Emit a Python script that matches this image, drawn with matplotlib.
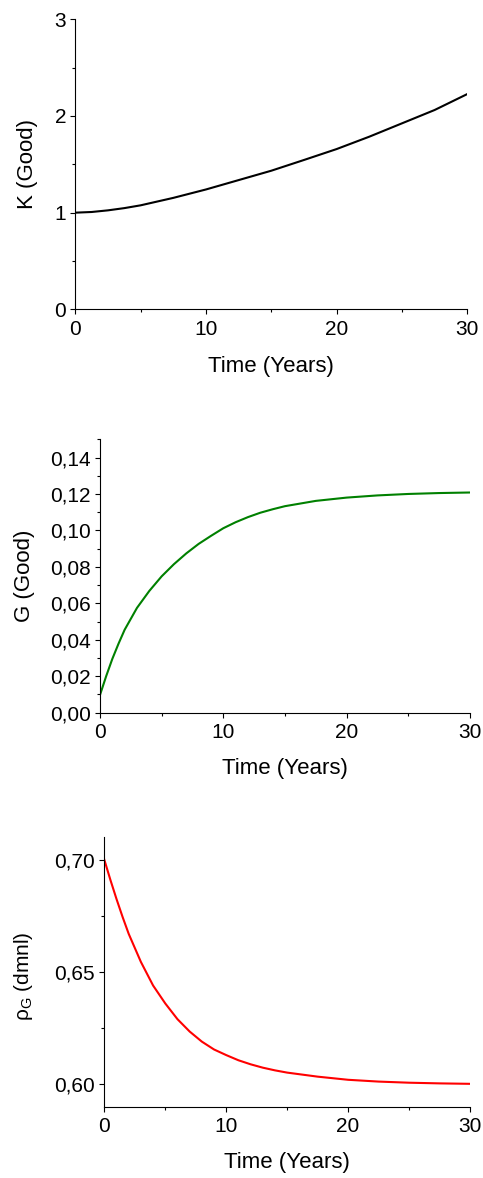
import matplotlib
matplotlib.use('Agg')
from matplotlib import pyplot as plt
from matplotlib.ticker import FixedLocator

plt.rcParams['font.family'] = ['Liberation Sans', 'DejaVu Sans']
plt.rcParams['mathtext.fontset'] = 'custom'
plt.rcParams['mathtext.rm'] = 'Liberation Sans'
plt.rcParams['mathtext.it'] = 'Liberation Sans'
plt.rcParams['mathtext.default'] = 'regular'

# K (Good)
t_k = [0, 1.25, 2.5, 3.75, 5, 7.5, 10, 12.5, 15, 17.5, 20, 22.5, 25, 27.5, 30]
k_vals = [1.0, 1.007, 1.024, 1.047, 1.076, 1.153, 1.240, 1.337, 1.434, 1.545, 1.658, 1.786, 1.924, 2.062, 2.227]

# G (Good)
t_g = [0, 0.5, 1, 1.5, 2, 3, 4, 5, 6, 7, 8, 9, 10, 11, 12, 13, 14, 15, 17.5, 20, 22.5, 25, 27.5, 30]
g_vals = [0.0097, 0.0200, 0.0295, 0.0378, 0.0455, 0.0575, 0.0668, 0.0748, 0.0815, 0.0874, 0.0926, 0.0970,
          0.1012, 0.1045, 0.1073, 0.1097, 0.1116, 0.1133, 0.1162, 0.1180, 0.1192, 0.1200, 0.1205, 0.1208]

# rho_G (dmnl)
t_r = [0, 0.5, 1, 1.5, 2, 3, 4, 5, 6, 7, 8, 9, 10, 11, 12, 13, 14, 15, 17.5, 20, 22.5, 25, 27.5, 30]
rho_vals = [0.700, 0.6910, 0.6825, 0.6745, 0.6670, 0.6545, 0.6440, 0.6360, 0.6290, 0.6235, 0.6190,
            0.6155, 0.6130, 0.6107, 0.6089, 0.6074, 0.6062, 0.6052, 0.6034, 0.6020, 0.6012, 0.6007,
            0.6004, 0.6002]

x_ticks = [0, 10, 20, 30]
x_minor = [5, 15, 25]

k_ticks = [0, 1, 2, 3]
k_minor = [0.5, 1.5, 2.5]
k_labels = ['0', '1', '2', '3']

g_ticks = [0.00, 0.02, 0.04, 0.06, 0.08, 0.10, 0.12, 0.14]
g_minor = [0.01, 0.03, 0.05, 0.07, 0.09, 0.11, 0.13, 0.15]
g_labels = ['0,00', '0,02', '0,04', '0,06', '0,08', '0,10', '0,12', '0,14']

r_ticks = [0.60, 0.65, 0.70]
r_minor = [0.625, 0.675]
r_labels = ['0,60', '0,65', '0,70']


def style_axis(ax, yticks, yminor, ylabels):
    ax.spines['top'].set_visible(False)
    ax.spines['right'].set_visible(False)
    for s in ['left', 'bottom']:
        ax.spines[s].set_linewidth(0.8)
    ax.set_xlim(0, 30)
    ax.xaxis.set_major_locator(FixedLocator(x_ticks))
    ax.xaxis.set_minor_locator(FixedLocator(x_minor))
    ax.set_xticklabels([str(v) for v in x_ticks])
    ax.yaxis.set_major_locator(FixedLocator(yticks))
    ax.yaxis.set_minor_locator(FixedLocator(yminor))
    ax.set_yticklabels(ylabels)
    ax.tick_params(which='major', direction='out', length=3.6, width=0.8, labelsize=15, pad=3)
    ax.tick_params(axis='x', which='major', pad=4)
    ax.tick_params(which='minor', direction='out', length=2.2, width=0.8)
    ax.set_xlabel('Time (Years)', fontsize=16)


fig = plt.figure(figsize=(4.83, 11.78), dpi=100)

ax1 = fig.add_axes([0.1559, 0.7374, 0.8116, 0.2462])
ax1.plot(t_k, k_vals, color='black', lw=1.5)
style_axis(ax1, k_ticks, k_minor, k_labels)
ax1.set_ylim(0, 3)
ax1.set_ylabel('K (Good)', fontsize=16)
ax1.yaxis.set_label_coords(-0.095, 0.5)
ax1.xaxis.set_label_coords(0.5, -0.161)

ax2 = fig.add_axes([0.2070, 0.3950, 0.7660, 0.2321])
ax2.plot(t_g, g_vals, color='#008000', lw=1.5)
style_axis(ax2, g_ticks, g_minor, g_labels)
ax2.set_ylim(0, 0.15)
ax2.set_ylabel('G (Good)', fontsize=16)
ax2.yaxis.set_label_coords(-0.176, 0.5)
ax2.xaxis.set_label_coords(0.5, -0.167)

ax3 = fig.add_axes([0.2160, 0.0605, 0.7571, 0.2287])
ax3.plot(t_r, rho_vals, color='#ff0000', lw=1.5)
style_axis(ax3, r_ticks, r_minor, r_labels)
ax3.set_ylim(0.59, 0.71)
ax3.set_ylabel(r'$\rho_{G}$ (dmnl)', fontsize=15)
ax3.yaxis.set_label_coords(-0.19, 0.483)
ax3.xaxis.set_label_coords(0.5, -0.167)

fig.savefig('out.png', dpi=100)
